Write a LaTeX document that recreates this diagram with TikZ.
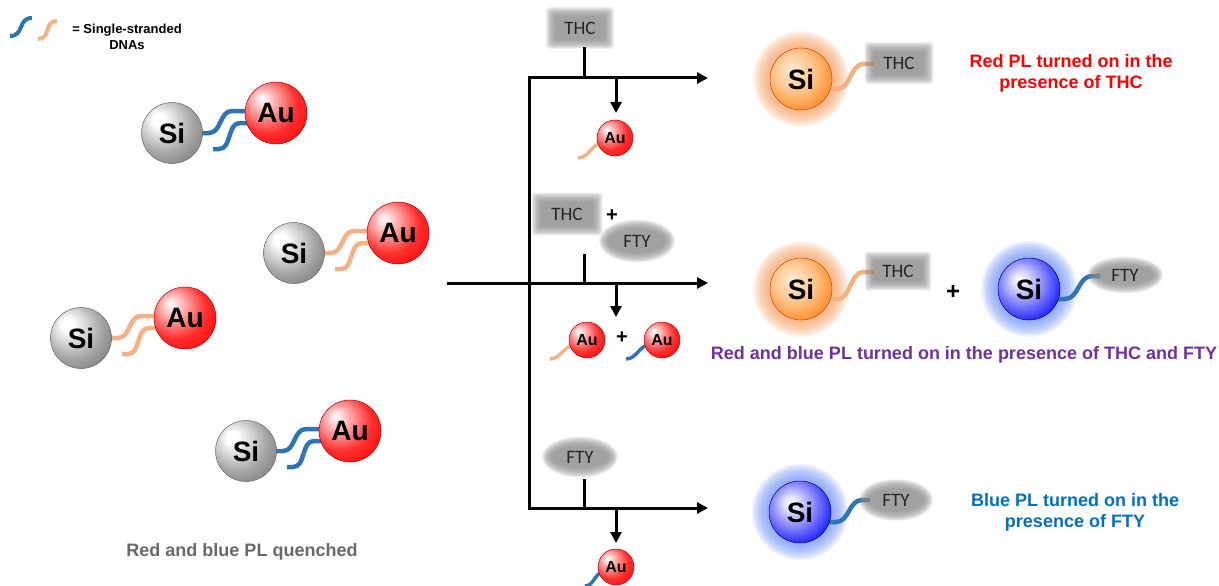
\documentclass[tikz,border=0pt]{standalone}
\usepackage{tikz}
\usepackage{fontspec}
\setmainfont{Liberation Sans}
\newfontfamily\labfamily{Carlito}
\usetikzlibrary{arrows.meta,calc}

\definecolor{dnablue}{RGB}{46,117,182}
\definecolor{dnaorange}{RGB}{244,177,131}
\definecolor{boxgray}{RGB}{140,140,140}
\definecolor{txtred}{RGB}{255,0,0}
\definecolor{txtpurple}{RGB}{112,48,160}
\definecolor{txtblue}{RGB}{0,112,192}
\definecolor{txtgray}{RGB}{105,105,105}
\definecolor{haloorange}{RGB}{245,160,100}
\definecolor{haloblue}{RGB}{110,145,245}

% sphere shadings (highlight up-left)
\pgfdeclareradialshading{sishade}{\pgfpoint{-12bp}{12bp}}{color(0bp)=(white); color(5bp)=(white); color(24bp)=(black!35); color(40bp)=(black!55); color(62bp)=(black!68)}
\pgfdeclareradialshading{aushade}{\pgfpoint{-12bp}{12bp}}{color(0bp)=(white); color(4bp)=(red!12!white); color(24bp)=(red!82!white); color(40bp)=(red); color(62bp)=(red!78!black)}
\pgfdeclareradialshading{orshade}{\pgfpoint{-8bp}{8bp}}{color(0bp)=(orange!15!white); color(16bp)=(orange!45!white); color(38bp)=(orange!90!red); color(62bp)=(orange!70!red!80!black)}
\pgfdeclareradialshading{blshade}{\pgfpoint{-8bp}{8bp}}{color(0bp)=(white); color(6bp)=(blue!12!white); color(30bp)=(blue!85!white); color(44bp)=(blue); color(62bp)=(blue!55!black)}

\newcommand\labfont{\labfamily\fontsize{19}{20}\selectfont}
\newcommand\bigfont{\fontsize{28}{30}\selectfont\bfseries}
\newcommand\notefont{\fontsize{18}{21}\selectfont\bfseries}

\tikzset{
  flow/.style={line width=3pt},
  flowarrow/.style={line width=3pt, -{Triangle[length=11pt,width=11pt]}},
  strandB/.style={line width=4.5pt, draw=dnablue},
  strandO/.style={line width=4.5pt, draw=dnaorange},
  thinB/.style={strandB, line width=3.5pt},
  thinO/.style={strandO, line width=3.5pt},
  siball/.style={circle, inner sep=0pt, minimum size=61pt, shade, shading=sishade,
    draw=black!60, line width=0.5pt, font=\bigfont},
  auball/.style={circle, inner sep=0pt, minimum size=62pt, shade, shading=aushade,
    draw=red!70!black, line width=0.5pt, font=\bigfont},
  ausmall/.style={auball, minimum size=36pt, font=\fontsize{16}{16}\selectfont\bfseries},
  siorange/.style={siball, shading=orshade, draw=orange!60!red!85!black, minimum size=62pt},
  siblue/.style={siball, shading=blshade, draw=blue!50!black, minimum size=62pt},
  plus/.style={font=\fontsize{20}{20}\selectfont\bfseries},
  note/.style={align=center, font=\notefont},
}

% soft glow around a lit particle: stacked translucent discs
\newcommand\glow[3]{% name, position, colour
  \coordinate (#1) at (#2);
  \foreach \r in {48,46.5,...,30}{%
    \fill[#3, fill opacity=0.11] (#1) circle[radius=\r pt];
  }%
}

% blurred grey rectangle / ellipse carrying a label
\newcommand\blurbox[5]{% name, position, width, height, text
  \foreach \e in {6,5.2,...,-4}{%
    \pgfmathsetmacro\bw{#3/2+\e}%
    \pgfmathsetmacro\bh{#4/2+\e}%
    \fill[boxgray, fill opacity=0.12, rounded corners=3pt]
      ($(#2)+(-\bw,-\bh)$) rectangle ($(#2)+(\bw,\bh)$);
  }%
  \node[font=\labfont, text=black!85] (#1) at (#2) {#5};
}
\newcommand\blurell[5]{% name, position, width, height, text
  \foreach \e in {6,5.2,...,-4}{%
    \pgfmathsetmacro\bw{#3/2+\e}%
    \pgfmathsetmacro\bh{#4/2+\e}%
    \fill[boxgray, fill opacity=0.12] (#2) ellipse [x radius=\bw pt, y radius=\bh pt];
  }%
  \node[font=\labfont, text=black!85] (#1) at (#2) {#5};
}

% Si--Au pair held together by two hybridised strands
\newcommand\pair[4]{% id, x, y, strand style
  \coordinate (c#1) at (#2,#3);
  \draw[#4] ($(c#1)+(26,0)$) -- ($(c#1)+(37,0)$) to[out=0,in=180] ($(c#1)+(60,-22)$) -- ($(c#1)+(76,-22)$);
  \draw[#4] ($(c#1)+(41,16)$) -- ($(c#1)+(47,16)$) to[out=0,in=180] ($(c#1)+(68,-10)$) -- ($(c#1)+(80,-10)$);
  \node[siball] (si#1) at (c#1) {Si};
  \node[auball] (au#1) at ($(c#1)+(104,-20)$) {Au};
}

\begin{document}
\begin{tikzpicture}[x=1pt,y=-1pt]
\useasboundingbox (0,0) rectangle (1219,586);

% ---------- legend ----------
\coordinate (lb1) at (10,36);  \coordinate (lb2) at (32,18);
\coordinate (lo1) at (38,39);  \coordinate (lo2) at (57,21);
\draw[strandB, line width=4pt] (lb1) to[out=0,in=180,looseness=1.3] (lb2);
\draw[strandO, line width=4pt] (lo1) to[out=0,in=180,looseness=1.3] (lo2);
\node[align=center, font=\fontsize{13}{16}\selectfont\bfseries] (legend) at (127,37) {= Single-stranded\\DNAs};

% ---------- quenched probes ----------
\pair{1}{172}{133}{strandB}
\pair{2}{294}{253}{strandO}
\pair{3}{81}{338}{strandO}
\pair{4}{246}{451}{strandB}
\node[font=\notefont, text=txtgray] (quench) at (242,552) {Red and blue PL quenched};

% ---------- reaction scheme ----------
\coordinate (in) at (447,283);
\coordinate (jt) at (529,78);  \coordinate (et) at (708,78);
\coordinate (jm) at (529,283); \coordinate (em) at (708,283);
\coordinate (jb) at (529,508); \coordinate (eb) at (708,508);
\draw[flow, {Triangle[length=11pt,width=11pt]}-{Triangle[length=11pt,width=11pt]}]
  (et) -- (jt) -- (jb) -- (eb);
\draw[flowarrow] (in) -- (em);

% analyte inputs
\blurbox{thcA}{580,28}{56}{30}{THC}
\coordinate (k1s) at (584,47);  \coordinate (k1e) at (584,78);
\draw[flow] (k1s) -- (k1e);

\blurbox{thcB}{567,214}{59}{31}{THC}
\node[plus] (plA) at (612,216) {+};
\blurell{ftyB}{637,241}{64}{31}{FTY}
\coordinate (k2s) at (584,254); \coordinate (k2e) at (584,283);
\draw[flow] (k2s) -- (k2e);

\blurell{ftyC}{580,457}{64}{29}{FTY}
\coordinate (k3s) at (584,479); \coordinate (k3e) at (584,508);
\draw[flow] (k3s) -- (k3e);

% released gold particles
\coordinate (d1s) at (616,78);  \coordinate (d1e) at (616,113);
\coordinate (d2s) at (616,283); \coordinate (d2e) at (616,317);
\coordinate (d3s) at (616,508); \coordinate (d3e) at (616,543);
\draw[flowarrow] (d1s) -- (d1e);
\draw[flowarrow] (d2s) -- (d2e);
\draw[flowarrow] (d3s) -- (d3e);

\coordinate (g1) at (615,138);
\coordinate (g2) at (587,340);
\coordinate (g3) at (662,340);
\coordinate (g4) at (616,567);
\draw[thinO] ($(g1)+(-12,5)$) to[out=180,in=0] ($(g1)+(-37,20)$);
\draw[thinO] ($(g2)+(-12,5)$) to[out=180,in=0] ($(g2)+(-37,19)$);
\draw[thinB] ($(g3)+(-12,5)$) to[out=180,in=0] ($(g3)+(-36,19)$);
\draw[thinB] ($(g4)+(-12,5)$) to[out=180,in=0] ($(g4)+(-31,19)$);
\node[ausmall] (auA) at (g1) {Au};
\node[ausmall] (auB) at (g2) {Au};
\node[plus] (plB) at (622,338) {+};
\node[ausmall] (auC) at (g3) {Au};
\node[ausmall] (auD) at (g4) {Au};

% ---------- switched-on probes ----------
% THC only
\glow{glow1}{801,79}{haloorange}
\draw[strandO] ($(glow1)+(26,10)$) -- ($(glow1)+(36,10)$) to[out=0,in=180] (864,64) -- (874,64);
\node[siorange] (on1) at (glow1) {Si};
\blurbox{thcR1}{899,63}{57}{30}{THC}
\node[note, text=txtred] (txt1) at (1071,73) {Red PL turned on in the\\presence of THC};

% THC and FTY
\glow{glow2}{801,289}{haloorange}
\draw[strandO] ($(glow2)+(26,10)$) -- ($(glow2)+(36,10)$) to[out=0,in=180] (864,272) -- (874,272);
\node[siorange] (on2) at (glow2) {Si};
\blurbox{thcR2}{898,271}{55}{27}{THC}
\node[plus, font=\fontsize{24}{24}\selectfont\bfseries] (plC) at (953,292) {+};
\glow{glow3}{1029,289}{haloblue}
\draw[strandB] ($(glow3)+(26,10)$) -- ($(glow3)+(36,10)$) to[out=0,in=180] (1092,276) -- (1100,276);
\node[siblue] (on3) at (glow3) {Si};
\blurell{ftyR2}{1125,275}{64}{25}{FTY}
\node[font=\notefont, text=txtpurple] (txt2) at (964,355) {Red and blue PL turned on in the presence of THC and FTY};

% FTY only
\glow{glow4}{800,512}{haloblue}
\draw[strandB] ($(glow4)+(26,10)$) -- ($(glow4)+(36,10)$) to[out=0,in=180] (862,500) -- (870,500);
\node[siblue] (on4) at (glow4) {Si};
\blurell{ftyR3}{896,500}{62}{30}{FTY}
\node[note, text=txtblue] (txt3) at (1075,512) {Blue PL turned on in the\\presence of FTY};
\end{tikzpicture}
\end{document}
